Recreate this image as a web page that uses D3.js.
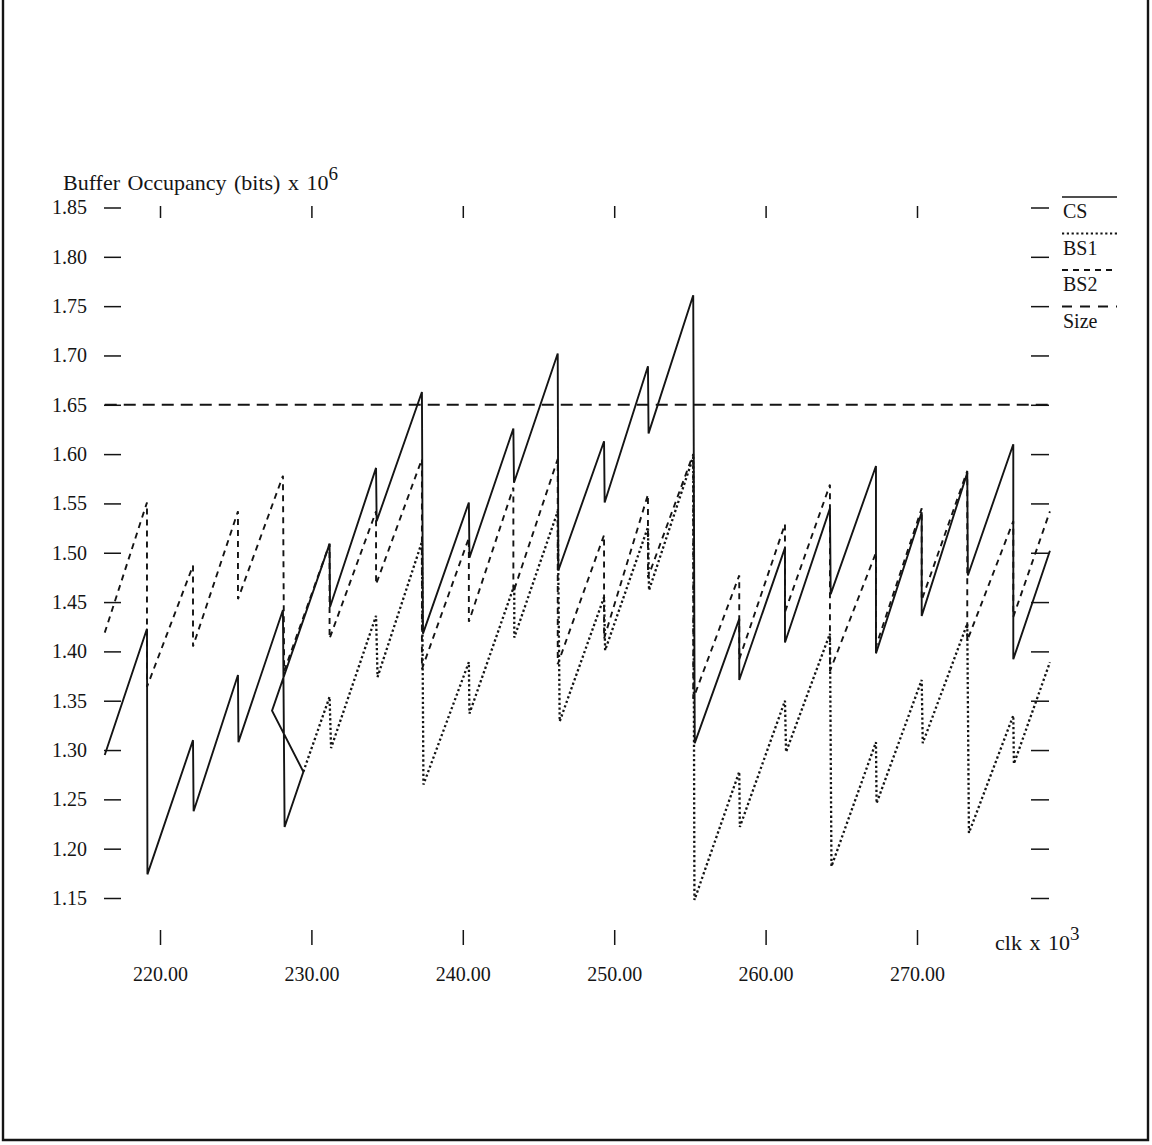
<!DOCTYPE html>
<html><head><meta charset="utf-8">
<script src="https://cdn.jsdelivr.net/npm/d3@7"></script>
<style>
body{margin:0;background:#fff;}
svg{display:block;}
text{font-family:"Liberation Serif","Times New Roman",serif;fill:#151515;}
</style>
</head><body>
<svg id="c" width="1152" height="1145"></svg>
<script>
// ---------- data ----------
const xTicks = [220, 230, 240, 250, 260, 270];
const yTicks = [1.15, 1.20, 1.25, 1.30, 1.35, 1.40, 1.45, 1.50, 1.55, 1.60, 1.65, 1.70, 1.75, 1.80, 1.85];
const xDomain = [216.35, 278.8];
const sizeLevel = 1.65;
const legendNames = ["CS", "BS1", "BS2", "Size"];
const yTitle = "Buffer Occupancy (bits) x 10";
const yTitleExp = "6";
const xTitle = "clk x 10";
const xTitleExp = "3";

const csPoints = [
  [216.35,1.295],
  [219.14,1.423],[219.17,1.174],
  [222.18,1.310],[222.22,1.238],
  [225.15,1.376],[225.18,1.308],
  [228.12,1.442],[228.23,1.222],
  [229.47,1.278],[227.40,1.340],
  [231.20,1.509],[231.23,1.445],
  [234.27,1.586],[234.31,1.532],
  [237.30,1.663],[237.37,1.418],
  [240.40,1.551],[240.44,1.495],
  [243.34,1.626],[243.38,1.571],
  [246.27,1.702],[246.31,1.482],
  [249.33,1.613],[249.37,1.551],
  [252.23,1.689],[252.27,1.621],
  [255.22,1.761],[255.32,1.307],
  [258.26,1.433],[258.26,1.371],
  [261.28,1.505],[261.28,1.409],
  [264.25,1.545],[264.30,1.458],
  [267.29,1.588],[267.29,1.398],
  [270.31,1.541],[270.31,1.436],
  [273.32,1.581],[273.36,1.477],
  [276.36,1.610],[276.36,1.392],
  [278.78,1.502]
];

const bs1Points = [
  [229.47,1.278],
  [231.20,1.354],[231.30,1.302],
  [234.27,1.436],[234.37,1.374],
  [237.30,1.511],[237.40,1.265],
  [240.40,1.389],[240.44,1.337],
  [243.40,1.467],[243.40,1.414],
  [246.27,1.542],[246.40,1.329],
  [249.33,1.455],[249.40,1.401],
  [252.23,1.526],[252.30,1.462],
  [255.22,1.597],[255.30,1.148],
  [258.26,1.278],[258.30,1.222],
  [261.28,1.350],[261.35,1.298],
  [264.25,1.418],[264.35,1.182],
  [267.29,1.308],[267.33,1.246],
  [270.31,1.371],[270.38,1.307],
  [273.32,1.428],[273.43,1.216],
  [276.36,1.335],[276.40,1.286],
  [278.78,1.389]
];

const bs2Points = [
  [216.35,1.419],
  [219.14,1.551],[219.14,1.364],
  [222.18,1.487],[222.18,1.405],
  [225.15,1.542],[225.15,1.453],
  [228.12,1.578],[228.20,1.380],
  [231.20,1.509],[231.20,1.413],
  [234.27,1.542],[234.27,1.468],
  [237.30,1.595],[237.30,1.382],
  [240.40,1.515],[240.40,1.430],
  [243.34,1.566],[243.34,1.460],
  [246.27,1.595],[246.27,1.387],
  [249.33,1.518],[249.33,1.413],
  [252.23,1.559],[252.23,1.475],
  [255.22,1.600],[255.22,1.352],
  [258.26,1.477],[258.26,1.392],
  [261.28,1.529],[261.28,1.440],
  [264.25,1.569],[264.25,1.380],
  [267.29,1.500],[267.29,1.405],
  [270.31,1.545],[270.31,1.452],
  [273.32,1.583],[273.32,1.411],
  [276.36,1.532],[276.36,1.435],
  [278.78,1.542]
];

// ---------- drawing ----------
const svg = d3.select("#c");
const ink = "#141414";

// frame
svg.append("path")
  .attr("d", "M3,0 L3,1140 L1148,1140 L1148,0")
  .attr("fill", "none").attr("stroke", ink).attr("stroke-width", 2.4);

const x = d3.scaleLinear().domain([220, 270]).range([160, 917]);
const y = d3.scaleLinear().domain([1.15, 1.85]).range([898, 207.5]);

function styleAxis(g) {
  g.select(".domain").remove();
  g.selectAll("line").attr("stroke", ink).attr("stroke-width", 1.5);
  g.selectAll("text").attr("font-family", "Liberation Serif, serif").attr("font-size", 20).attr("fill", ink);
}

// left axis
svg.append("g").attr("transform", "translate(121,0)")
  .call(d3.axisLeft(y).tickValues(yTicks).tickSize(17).tickPadding(17).tickFormat(d3.format(".2f")))
  .call(styleAxis);
// right ticks
svg.append("g").attr("transform", "translate(1031,0)")
  .call(d3.axisRight(y).tickValues(yTicks).tickSize(18).tickFormat(""))
  .call(styleAxis);
// bottom axis
svg.append("g").attr("transform", "translate(0,930)")
  .call(d3.axisBottom(x).tickValues(xTicks).tickSize(15).tickPadding(22).tickFormat(d3.format(".2f")))
  .call(styleAxis);
// top ticks
svg.append("g").attr("transform", "translate(0,218)")
  .call(d3.axisTop(x).tickValues(xTicks).tickSize(12).tickFormat(""))
  .call(styleAxis);

// axis titles
const yt = svg.append("text").attr("x", 63).attr("y", 190).attr("font-size", 22).attr("word-spacing", 2);
yt.append("tspan").text(yTitle);
yt.append("tspan").attr("dy", -10).attr("font-size", 19).text(yTitleExp);

const xt = svg.append("text").attr("x", 995).attr("y", 950).attr("font-size", 22).attr("word-spacing", 2);
xt.append("tspan").text(xTitle);
xt.append("tspan").attr("dy", -10).attr("font-size", 19).text(xTitleExp);

// lines
const line = d3.line().x(d => x(d[0])).y(d => y(d[1]));

svg.append("path").datum([[xDomain[0], sizeLevel], [xDomain[1], sizeLevel]])
  .attr("d", line).attr("fill", "none").attr("stroke", ink)
  .attr("stroke-width", 1.9).attr("stroke-dasharray", "12,7");

svg.append("path").datum(bs1Points)
  .attr("d", line).attr("fill", "none").attr("stroke", ink)
  .attr("stroke-width", 2.3).attr("stroke-dasharray", "2.3,2.5");

svg.append("path").datum(bs2Points)
  .attr("d", line).attr("fill", "none").attr("stroke", ink)
  .attr("stroke-width", 1.9).attr("stroke-dasharray", "6,5");

svg.append("path").datum(csPoints)
  .attr("d", line).attr("fill", "none").attr("stroke", ink)
  .attr("stroke-width", 1.9).attr("stroke-linejoin", "miter");

// legend
const legStyles = [
  {dash: null, w: 1.7},
  {dash: "2.2,2.6", w: 2.1},
  {dash: "6,5", w: 1.8},
  {dash: "10,8", w: 1.8}
];
const lg = svg.append("g");
legendNames.forEach((name, i) => {
  const ly = 197 + i * 36.5;
  const l = lg.append("line").attr("x1", 1062).attr("x2", 1117)
    .attr("y1", ly).attr("y2", ly).attr("stroke", ink).attr("stroke-width", legStyles[i].w);
  if (legStyles[i].dash) l.attr("stroke-dasharray", legStyles[i].dash);
  lg.append("text").attr("x", 1063).attr("y", ly + 21).attr("font-size", 20).text(name);
});
</script>
</body></html>
